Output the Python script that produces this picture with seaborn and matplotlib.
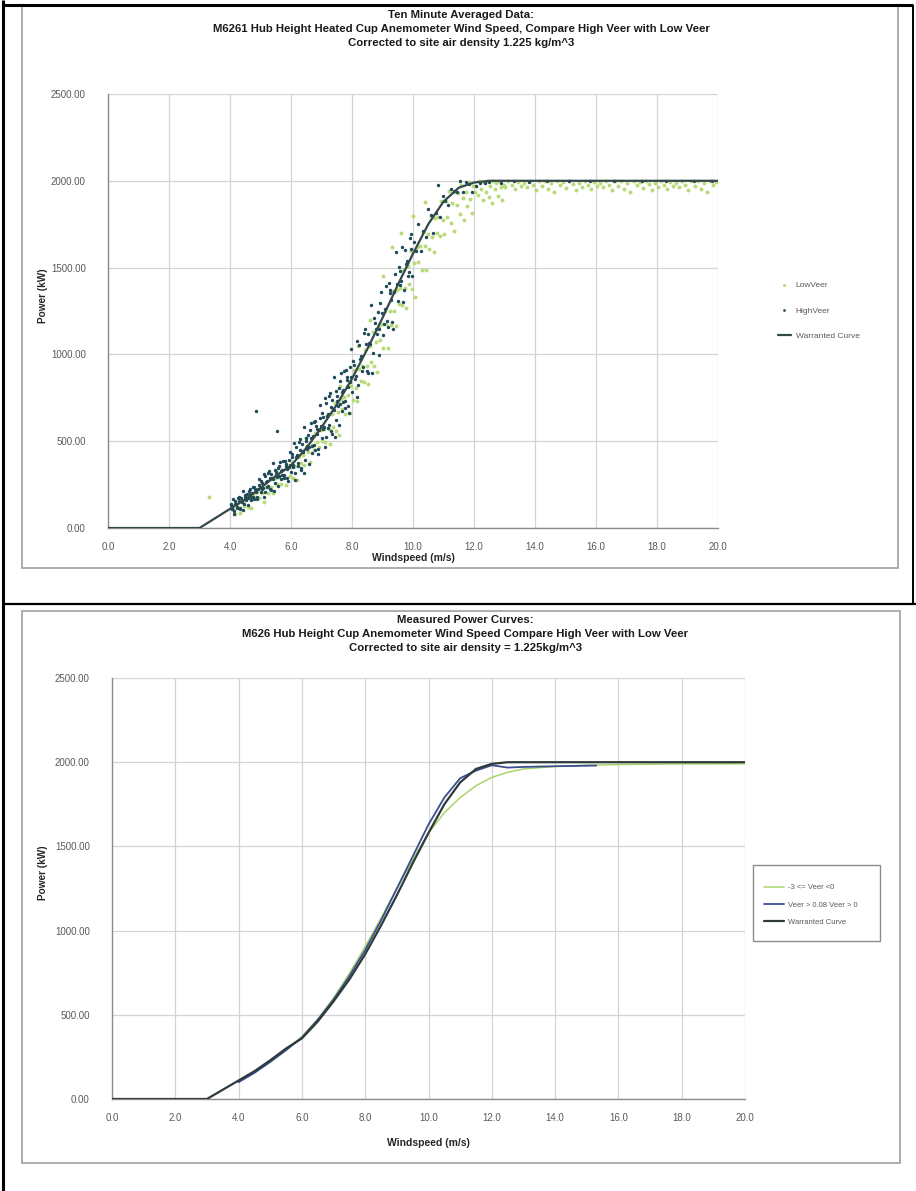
import matplotlib
matplotlib.use("Agg")
import matplotlib.pyplot as plt
import seaborn as sns
from matplotlib.lines import Line2D
from matplotlib.patches import Rectangle

# ---------------------------------------------------------------- data
# Warranted (manufacturer) power curve, kW vs m/s
warranted_ws = [0, 1, 2, 3, 3.5, 4, 4.5, 5, 5.5, 6, 6.5, 7, 7.5, 8, 8.5, 9, 9.5,
                10, 10.5, 11, 11.5, 12, 12.5, 13, 14, 15, 16, 17, 18, 19, 20]
warranted_kw = [0, 0, 0, 0, 55, 110, 165, 230, 300, 360, 460, 580, 710, 860, 1030,
                1210, 1400, 1580, 1750, 1880, 1960, 1990, 2000, 2000, 2000, 2000,
                2000, 2000, 2000, 2000, 2000]

# Ten-minute records (wind speed m/s, power kW), high veer
high_veer = [
    (4.02, 136), (4.06, 109), (4.10, 165), (4.14, 97), (4.18, 136), (4.22, 116), (4.26, 173),
    (4.30, 155), (4.34, 109), (4.38, 154), (4.42, 212), (4.46, 137), (4.50, 181), (4.54, 164),
    (4.58, 131), (4.62, 211), (4.66, 194), (4.70, 177), (4.74, 234), (4.78, 169), (4.82, 227),
    (4.86, 210), (4.90, 165), (4.94, 248), (4.98, 231),
    (5.02, 269), (5.06, 226), (5.10, 310), (5.14, 208), (5.18, 264), (5.22, 234), (5.26, 317),
    (5.30, 290), (5.34, 221), (5.38, 286), (5.42, 373), (5.46, 258), (5.50, 324), (5.54, 296),
    (5.58, 244), (5.62, 359), (5.66, 331), (5.70, 303), (5.74, 386), (5.78, 286), (5.82, 368),
    (5.86, 340), (5.90, 270), (5.94, 392), (5.98, 364),
    (6.02, 424), (6.06, 352), (6.10, 490), (6.14, 318), (6.18, 411), (6.22, 359), (6.26, 497),
    (6.30, 450), (6.34, 333), (6.38, 441), (6.42, 584), (6.46, 392), (6.50, 500), (6.54, 455),
    (6.58, 369), (6.62, 564), (6.66, 518), (6.70, 473), (6.74, 613), (6.78, 447), (6.82, 587),
    (6.86, 541), (6.90, 426), (6.94, 631), (6.98, 585),
    (7.02, 663), (7.06, 570), (7.10, 749), (7.14, 525), (7.18, 647), (7.22, 578), (7.26, 759),
    (7.30, 697), (7.34, 544), (7.38, 686), (7.42, 871), (7.46, 622), (7.50, 762), (7.54, 702),
    (7.58, 591), (7.62, 844), (7.66, 784), (7.70, 724), (7.74, 906), (7.78, 690), (7.82, 871),
    (7.86, 811), (7.90, 661), (7.94, 927), (7.98, 867),
    (4.04, 130), (4.08, 113), (4.12, 79), (4.16, 158), (4.20, 140), (4.24, 122), (4.28, 179),
    (4.32, 113), (4.36, 170), (4.40, 152), (4.44, 106), (4.48, 189), (4.52, 172), (4.56, 197),
    (4.60, 170), (4.64, 227), (4.68, 160), (4.72, 200), (4.76, 181), (4.80, 238), (4.84, 221),
    (4.88, 176), (4.92, 222), (4.96, 281), (5.00, 206),
    (5.04, 260), (5.08, 232), (5.12, 181), (5.16, 297), (5.20, 270), (5.24, 243), (5.28, 326),
    (5.32, 227), (5.36, 310), (5.40, 283), (5.44, 214), (5.48, 336), (5.52, 308), (5.56, 343),
    (5.60, 300), (5.64, 383), (5.68, 280), (5.72, 335), (5.76, 304), (5.80, 387), (5.84, 359),
    (5.88, 289), (5.92, 353), (5.96, 439), (6.00, 324),
    (6.04, 408), (6.08, 361), (6.12, 274), (6.16, 467), (6.20, 420), (6.24, 373), (6.28, 511),
    (6.32, 344), (6.36, 482), (6.40, 435), (6.44, 318), (6.48, 521), (6.52, 475), (6.56, 534),
    (6.60, 464), (6.64, 604), (6.68, 433), (6.72, 528), (6.76, 477), (6.80, 617), (6.84, 572),
    (6.88, 456), (6.92, 566), (6.96, 710), (7.00, 520),
    (7.04, 642), (7.08, 581), (7.12, 468), (7.16, 720), (7.20, 658), (7.24, 596), (7.28, 777),
    (7.32, 559), (7.36, 739), (7.40, 677), (7.44, 525), (7.48, 790), (7.52, 729), (7.56, 806),
    (7.60, 714), (7.64, 895), (7.68, 673), (7.72, 796), (7.76, 729), (7.80, 911), (7.84, 851),
    (7.88, 700), (7.92, 843), (7.96, 1030), (8.00, 782),
    (8.03, 960), (8.09, 861), (8.15, 1076), (8.21, 826), (8.27, 975), (8.33, 904), (8.39, 1121),
    (8.45, 1058), (8.51, 891), (8.57, 1063), (8.63, 1287), (8.69, 1008), (8.75, 1180),
    (8.81, 1119), (8.87, 998), (8.93, 1298), (8.99, 1236), (9.05, 1176), (9.11, 1395),
    (9.17, 1155), (9.23, 1372), (9.29, 1312), (9.35, 1148), (9.41, 1464), (9.47, 1404),
    (9.53, 1501), (9.59, 1402), (9.65, 1619), (9.71, 1371), (9.77, 1520), (9.83, 1451),
    (9.89, 1668), (9.95, 1607),
    (8.06, 940), (8.12, 878), (8.18, 756), (8.24, 1055), (8.30, 992), (8.36, 929), (8.42, 1146),
    (8.48, 903), (8.54, 1119), (8.60, 1058), (8.66, 893), (8.72, 1207), (8.78, 1146),
    (8.84, 1242), (8.90, 1144), (8.96, 1361), (9.02, 1113), (9.08, 1263), (9.14, 1195),
    (9.20, 1414), (9.26, 1354), (9.32, 1189), (9.38, 1362), (9.44, 1587), (9.50, 1310),
    (9.56, 1482), (9.62, 1420), (9.68, 1300), (9.74, 1599), (9.80, 1538), (9.86, 1477),
    (9.92, 1694), (9.98, 1453),
    (10.02, 1647), (10.10, 1594), (10.18, 1751), (10.26, 1598), (10.34, 1711), (10.42, 1678),
    (10.50, 1835), (10.58, 1801), (10.66, 1697), (10.74, 1817), (10.82, 1973), (10.90, 1794),
    (10.98, 1915), (11.05, 1882), (11.15, 1860), (11.25, 1950), (11.35, 1944), (11.45, 1938),
    (11.55, 1996), (11.65, 1937), (11.75, 1995), (11.85, 1979), (11.95, 1935),
    (12.05, 1972), (12.20, 1985), (12.35, 1990), (12.50, 1995), (12.90, 1990), (13.30, 1998),
    (13.80, 1993), (14.40, 1999), (15.10, 1996), (15.80, 2000), (16.60, 1997), (17.50, 2000),
    (18.30, 1998), (19.20, 2000), (19.80, 1999),
    (4.85, 675), (5.55, 560),
]

# Ten-minute records (wind speed m/s, power kW), low veer
low_veer = [
    (4.10, 109), (4.16, 83), (4.22, 140), (4.28, 114), (4.34, 84), (4.40, 151), (4.46, 125),
    (4.52, 178), (4.58, 121), (4.64, 165), (4.70, 116), (4.76, 197), (4.82, 177), (4.88, 205),
    (4.94, 171), (5.00, 235), (5.06, 204), (5.12, 148), (5.18, 235), (5.24, 203), (5.30, 283),
    (5.36, 237), (5.42, 203), (5.48, 288), (5.54, 255), (5.60, 294), (5.66, 251), (5.72, 335),
    (5.78, 293), (5.84, 246), (5.90, 343), (5.96, 301),
    (6.02, 382), (6.08, 286), (6.14, 358), (6.20, 275), (6.26, 409), (6.32, 374), (6.38, 421),
    (6.44, 363), (6.50, 465), (6.56, 436), (6.62, 379), (6.68, 480), (6.74, 450), (6.80, 545),
    (6.86, 498), (6.92, 466), (6.98, 565),
    (7.03, 500), (7.08, 569), (7.13, 494), (7.18, 643), (7.23, 568), (7.28, 485), (7.33, 658),
    (7.38, 583), (7.43, 720), (7.48, 561), (7.53, 671), (7.58, 534), (7.63, 745), (7.68, 684),
    (7.73, 755), (7.78, 658), (7.83, 817), (7.88, 764), (7.93, 663), (7.98, 818),
    (8.03, 735), (8.08, 912), (8.13, 809), (8.18, 731), (8.23, 918), (8.28, 845), (8.33, 932),
    (8.38, 839), (8.43, 1026), (8.48, 933), (8.53, 831), (8.58, 1049), (8.63, 957), (8.68, 1130),
    (8.73, 933), (8.78, 1071), (8.83, 899), (8.88, 1162), (8.93, 1085), (8.98, 1173),
    (9.03, 1034), (9.08, 1251), (9.13, 1177), (9.18, 1036), (9.23, 1248), (9.28, 1168),
    (9.33, 1363), (9.38, 1250), (9.43, 1164), (9.48, 1370), (9.53, 1290), (9.58, 1385),
    (9.63, 1282), (9.68, 1487), (9.73, 1384), (9.78, 1270), (9.83, 1508), (9.88, 1405),
    (9.93, 1594), (9.98, 1375),
    (10.03, 1524), (10.08, 1332), (10.13, 1618), (10.18, 1531), (10.23, 1625), (10.28, 1488),
    (10.33, 1703), (10.38, 1626), (10.43, 1484), (10.48, 1693), (10.53, 1609), (10.58, 1799),
    (10.63, 1679), (10.68, 1588), (10.73, 1788), (10.78, 1702), (10.83, 1792), (10.88, 1684),
    (10.93, 1884), (10.98, 1776),
    (11.03, 1696), (11.08, 1884), (11.13, 1793), (11.18, 1941), (11.23, 1755), (11.28, 1871),
    (11.33, 1708), (11.38, 1936), (11.43, 1859), (11.48, 1930), (11.53, 1809), (11.58, 1974),
    (11.63, 1900), (11.68, 1773), (11.73, 1933), (11.78, 1855), (11.83, 1995), (11.88, 1897),
    (11.93, 1815), (11.98, 1971),
    (12.03, 1936), (12.08, 1972), (12.13, 1918), (12.18, 1998), (12.23, 1950), (12.28, 1891),
    (12.33, 1992), (12.38, 1937), (12.43, 1999), (12.48, 1908), (12.53, 1970), (12.58, 1875),
    (12.63, 1998), (12.68, 1950), (12.73, 1985), (12.78, 1915), (12.83, 1998), (12.88, 1963),
    (12.93, 1890), (12.98, 1978),
    (13.03, 1966), (13.13, 1998), (13.23, 1976), (13.33, 1952), (13.43, 1995), (13.53, 1972),
    (13.63, 1990), (13.73, 1962), (13.83, 1998), (13.93, 1977), (14.03, 1947), (14.13, 1997),
    (14.23, 1970), (14.33, 1998), (14.43, 1955), (14.53, 1985), (14.63, 1937), (14.73, 1999),
    (14.83, 1975), (14.93, 1992), (15.03, 1957), (15.13, 1998), (15.23, 1981), (15.33, 1945),
    (15.43, 1989), (15.53, 1966), (15.63, 1998), (15.73, 1976), (15.83, 1952), (15.93, 1995),
    (16.03, 1972), (16.13, 1990), (16.23, 1962), (16.33, 1998), (16.43, 1977), (16.53, 1947),
    (16.63, 1997), (16.73, 1970), (16.83, 1998), (16.93, 1955), (17.03, 1985), (17.13, 1937),
    (17.23, 1999), (17.33, 1975), (17.43, 1992), (17.53, 1957), (17.63, 1998), (17.73, 1981),
    (17.83, 1945), (17.93, 1989), (18.03, 1966), (18.13, 1998), (18.23, 1976), (18.33, 1952),
    (18.43, 1995), (18.53, 1972), (18.63, 1990), (18.73, 1962), (18.83, 1998), (18.93, 1977),
    (19.03, 1947), (19.13, 1997), (19.23, 1970), (19.33, 1998), (19.43, 1955), (19.53, 1985),
    (19.63, 1937), (19.73, 1999), (19.83, 1975), (19.93, 1992),
    (9.00, 1450), (9.30, 1620), (8.60, 1200), (8.20, 1050), (7.60, 820), (10.00, 1800),
    (10.40, 1880), (9.60, 1700), (6.50, 520), (5.50, 330),
    (3.30, 180),
]
high_ws, high_kw = [list(v) for v in zip(*high_veer)]
low_ws, low_kw = [list(v) for v in zip(*low_veer)]

# Binned measured power curves
lowveer_bin_ws = [4.0, 4.5, 5.0, 5.5, 6.0, 6.5, 7.0, 7.5, 8.0, 8.5, 9.0, 9.5, 10.0,
                  10.5, 11.0, 11.5, 12.0, 12.5, 13.0, 14.0, 15.0, 16.0, 17.0, 18.0,
                  19.0, 20.0]
lowveer_bin_kw = [105, 160, 225, 295, 370, 475, 600, 745, 905, 1075, 1250, 1420, 1580,
                  1700, 1790, 1860, 1910, 1940, 1960, 1975, 1982, 1986, 1988, 1990,
                  1990, 1991]
highveer_bin_ws = [4.0, 4.5, 5.0, 5.5, 6.0, 6.5, 7.0, 7.5, 8.0, 8.5, 9.0, 9.5, 10.0,
                   10.5, 11.0, 11.5, 12.0, 12.5, 13.0, 14.0, 15.3]
highveer_bin_kw = [100, 155, 220, 290, 365, 470, 590, 730, 885, 1060, 1250, 1440, 1630,
                   1790, 1905, 1950, 1982, 1968, 1972, 1976, 1980]

top_titles = ["Ten Minute Averaged Data:",
              "M6261 Hub Height Heated Cup Anemometer Wind Speed, Compare High Veer with Low Veer",
              "Corrected to site air density 1.225 kg/m^3"]
bottom_titles = ["Measured Power Curves:",
                 "M626 Hub Height Cup Anemometer Wind Speed Compare High Veer with Low Veer",
                 "Corrected to site air density = 1.225kg/m^3"]
top_labels = ["LowVeer", "HighVeer", "Warranted Curve"]
bottom_labels = ["-3 <= Veer <0", "Veer > 0.08 Veer > 0", "Warranted Curve"]

# ---------------------------------------------------------------- style
sns.set_theme(style="white")
plt.rcParams["font.family"] = ["Liberation Sans", "DejaVu Sans"]

W, H = 916, 1191
fig = plt.figure(figsize=(W / 100, H / 100), dpi=100)


def fx(px):
    return px / W


def fy(py):
    return 1 - py / H


def rect(x0, y0, x1, y1):
    return [fx(x0), fy(y1), (x1 - x0) / W, (y1 - y0) / H]


LIGHT_GREEN = "#b9da78"
DARK_TEAL = "#1f4a5a"
CURVE = "#34474a"
BLUE = "#3a4d8f"
GRID = "#d4d4d4"
AXIS = "#8c8c8c"
TICK_TXT = "#5a5a5a"

# page frame lines
for xs, ys, lw in [([3, 3], [0, 1191], 2.2), ([3, 913], [5, 5], 2.2),
                   ([913, 913], [5, 604], 1.4), ([3, 916], [604, 604], 1.6)]:
    fig.add_artist(Line2D([fx(v) for v in xs], [fy(v) for v in ys],
                          color="black", lw=lw, solid_capstyle="butt", zorder=10))

# chart-area borders
for x0, y0, x1, y1 in [(22, 6, 898, 568), (22, 611, 900, 1163)]:
    fig.add_artist(Rectangle((fx(x0), fy(y1)), (x1 - x0) / W, (y1 - y0) / H,
                             transform=fig.transFigure, fill=False,
                             ec="#a0a0a0", lw=1.2))


def style_axes(ax):
    ax.set_xlim(0, 20)
    ax.set_ylim(0, 2500)
    ax.set_xticks(range(0, 21, 2))
    ax.set_yticks(range(0, 2501, 500))
    ax.set_xticklabels([f"{v:.1f}" for v in range(0, 21, 2)])
    ax.set_yticklabels([f"{v:.2f}" for v in range(0, 2501, 500)])
    ax.grid(True, color=GRID, lw=0.9)
    ax.set_axisbelow(True)
    for s in ["top", "right"]:
        ax.spines[s].set_visible(False)
    for s in ["left", "bottom"]:
        ax.spines[s].set_color(AXIS)
        ax.spines[s].set_linewidth(1.0)
    ax.tick_params(axis="both", colors=AXIS, length=4, width=0.8, direction="out",
                   labelsize=7, labelcolor=TICK_TXT)
    ax.tick_params(axis="y", pad=12)
    ax.tick_params(axis="x", pad=6)
    ax.set_xlabel("")
    ax.set_ylabel("")


# ---------------------------------------------------------------- top chart
ax1 = fig.add_axes(rect(108, 94, 718, 528))
sns.scatterplot(x=low_ws, y=low_kw, ax=ax1, color=LIGHT_GREEN, s=8, linewidth=0,
                label=top_labels[0], zorder=3)
sns.scatterplot(x=high_ws, y=high_kw, ax=ax1, color=DARK_TEAL, s=6, linewidth=0,
                label=top_labels[1], zorder=4)
sns.lineplot(x=warranted_ws, y=warranted_kw, ax=ax1, color=CURVE, lw=1.6,
             label=top_labels[2], sort=False, estimator=None, zorder=5)
style_axes(ax1)
ax1.legend(loc="upper left", bbox_to_anchor=(fx(770), fy(274)),
           bbox_transform=fig.transFigure, frameon=False, fontsize=6,
           labelspacing=2.1, handlelength=1.6, handletextpad=0.6,
           markerscale=0.8, labelcolor=TICK_TXT)

for i, t in enumerate(top_titles):
    fig.text(fx(461), fy(15 + 14 * i), t, ha="center", va="center",
             fontsize=8.2, fontweight="bold", color="#1a1a1a")
fig.text(fx(413), fy(558), "Windspeed (m/s)", ha="center", va="center",
         fontsize=7.5, fontweight="bold", color="#262626")
fig.text(fx(43), fy(296), "Power (kW)", ha="center", va="center", rotation=90,
         fontsize=7.2, fontweight="bold", color="#262626")

# ---------------------------------------------------------------- bottom chart
ax2 = fig.add_axes(rect(112, 678, 745, 1099))
sns.lineplot(x=lowveer_bin_ws, y=lowveer_bin_kw, ax=ax2, color="#a9d46a", lw=1.1,
             label=bottom_labels[0], sort=False, estimator=None, zorder=3)
sns.lineplot(x=highveer_bin_ws, y=highveer_bin_kw, ax=ax2, color=BLUE, lw=1.3,
             label=bottom_labels[1], sort=False, estimator=None, zorder=4)
sns.lineplot(x=warranted_ws, y=warranted_kw, ax=ax2, color="#2e3a3c", lw=1.6,
             label=bottom_labels[2], sort=False, estimator=None, zorder=5)
style_axes(ax2)
ax2.legend(loc="upper left", bbox_to_anchor=(fx(758), fy(878)),
           bbox_transform=fig.transFigure, frameon=False, fontsize=5.5,
           labelspacing=1.3, handlelength=2.6, handletextpad=0.5,
           borderpad=0.3, labelcolor=TICK_TXT)
fig.add_artist(Rectangle((fx(753), fy(941)), (880 - 753) / W, (941 - 865) / H,
                         transform=fig.transFigure, fill=False, ec="#8c8c8c", lw=1.0))

for i, t in enumerate(bottom_titles):
    fig.text(fx(465), fy(620 + 14 * i), t, ha="center", va="center",
             fontsize=8.2, fontweight="bold", color="#1a1a1a")
fig.text(fx(428), fy(1143), "Windspeed (m/s)", ha="center", va="center",
         fontsize=7.5, fontweight="bold", color="#262626")
fig.text(fx(43), fy(873), "Power (kW)", ha="center", va="center", rotation=90,
         fontsize=7.2, fontweight="bold", color="#262626")

fig.savefig("out.png", dpi=100, facecolor="white")
